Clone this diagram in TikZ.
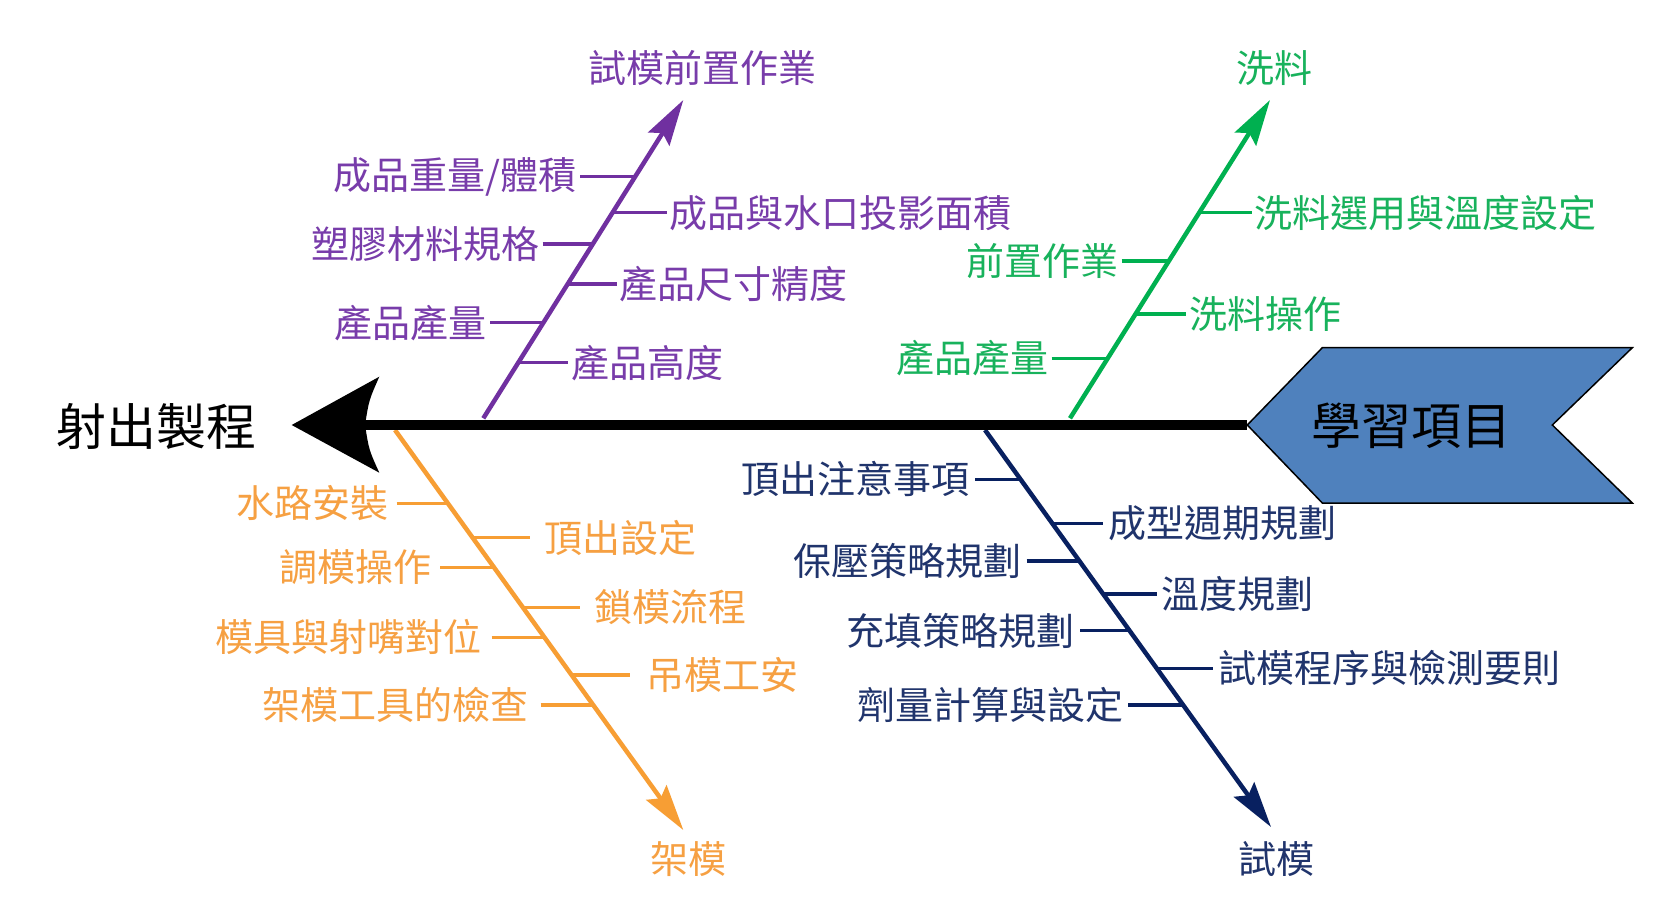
\documentclass[tikz,border=0pt]{standalone}
\usepackage{fontspec}
\setmainfont{Noto Sans CJK TC}
\usetikzlibrary{arrows.meta}
\definecolor{cpurple}{RGB}{112,48,160}
\definecolor{cpurpletxt}{RGB}{120,60,170}
\definecolor{cgreen}{RGB}{0,176,80}
\definecolor{cgreentxt}{RGB}{24,178,92}
\definecolor{corange}{RGB}{247,158,52}
\definecolor{corangetxt}{RGB}{246,160,66}
\definecolor{cnavy}{RGB}{8,32,96}
\definecolor{cnavytxt}{RGB}{32,52,108}
\definecolor{cblue}{RGB}{79,129,189}
\begin{document}
\begin{tikzpicture}[x=1pt,y=-1pt,
  lab/.style={inner ysep=0pt, inner xsep=3pt, font=\fontsize{38pt}{40pt}\selectfont},
  labL/.style={lab, anchor=east},
  labR/.style={lab, anchor=west},
  ttl/.style={inner sep=0pt, font=\fontsize{38pt}{40pt}\selectfont},
  big/.style={inner sep=0pt, font=\fontsize{50pt}{52pt}\selectfont},
  bone/.style={line width=4.5pt, -{Stealth[length=46pt,width=25pt,inset=7pt]}},
  tick/.style={line width=3.5pt},
]
\fill[white] (0,0) rectangle (1679,900);
\useasboundingbox (0,0) rectangle (1679,900);

% ---------- coordinates of the bones ----------
\coordinate (pbase) at (483.3,418.3);
\coordinate (ptip)  at (683.3,100);
\coordinate (gbase) at (1070,418.3);
\coordinate (gtip)  at (1270,100);
\coordinate (obase) at (395,430);
\coordinate (otip)  at (683.3,830);
\coordinate (nbase) at (985,430);
\coordinate (ntip)  at (1271,827);

% ---------- bones ----------
\draw[bone, cpurple] (pbase) -- (ptip);
\draw[bone, cgreen]  (gbase) -- (gtip);
\draw[bone, corange] (obase) -- (otip);
\draw[bone, cnavy]   (nbase) -- (ntip);

% ---------- spine and head ----------
\coordinate (headtip) at (291.7,425);
\coordinate (headnotch) at (365,425);
\coordinate (goalpt) at (1247.3,425);
\fill[black] (headtip) -- (379.3,376.7) .. controls (369,400) .. (headnotch)
  .. controls (369,450) .. (379.3,472.7) -- cycle;
\draw[line width=10pt] (headnotch) -- (goalpt);
\filldraw[fill=cblue, draw=black, line width=1.5pt]
  (goalpt) -- (1322.3,347.7) -- (1632.3,347.7) -- (1552.3,425)
  -- (1632.3,503) -- (1322.3,503) -- cycle;
\node[big] (goal) at (1411.5,426) {學習項目};
\node[big] (effect) at (156.5,426.5) {射出製程};

% ---------- titles ----------
\node[ttl, text=cpurpletxt] (tp) at (702.5,68) {試模前置作業};
\node[ttl, text=cgreentxt]  (tg) at (1274,68) {洗料};
\node[ttl, text=corangetxt] (to) at (688.5,859) {架模};
\node[ttl, text=cnavytxt]   (tn) at (1276.5,859) {試模};

% ---------- purple ----------
\begin{scope}[every node/.append style={text=cpurpletxt}]
\node[labL] (p1) at (580,176.7) {成品重量/體積};
\node[labR] (p2) at (666.7,212.7) {成品與水口投影面積};
\node[labL] (p3) at (542.7,244) {塑膠材料規格};
\node[labR] (p4) at (616.7,284) {產品尺寸精度};
\node[labL] (p5) at (490,322.7) {產品產量};
\node[labR] (p6) at (568.3,362.7) {產品高度};
\end{scope}
\coordinate (p1b) at (635.1,176.7);
\coordinate (p2b) at (612.5,212.7);
\coordinate (p3b) at (592.8,244);
\coordinate (p4b) at (567.7,284);
\coordinate (p5b) at (543.4,322.7);
\coordinate (p6b) at (518.2,362.7);
\begin{scope}[cpurple]
\draw[tick] (p1.east) -- (p1b);
\draw[tick] (p2b) -- (p2.west);
\draw[tick] (p3.east) -- (p3b);
\draw[tick] (p4b) -- (p4.west);
\draw[tick] (p5.east) -- (p5b);
\draw[tick] (p6b) -- (p6.west);
\end{scope}

% ---------- green ----------
\begin{scope}[every node/.append style={text=cgreentxt}]
\node[labR] (g1) at (1251.7,212.7) {洗料選用與溫度設定};
\node[labL] (g2) at (1121.7,261) {前置作業};
\node[labR] (g3) at (1186,314) {洗料操作};
\node[labL] (g4) at (1051.7,358.3) {產品產量};
\end{scope}
\coordinate (g1b) at (1199.2,212.7);
\coordinate (g2b) at (1168.8,261);
\coordinate (g3b) at (1135.5,314);
\coordinate (g4b) at (1107.7,358.3);
\begin{scope}[cgreen]
\draw[tick] (g1b) -- (g1.west);
\draw[tick] (g2.east) -- (g2b);
\draw[tick] (g3b) -- (g3.west);
\draw[tick] (g4.east) -- (g4b);
\end{scope}

% ---------- orange ----------
\begin{scope}[every node/.append style={text=corangetxt}]
\node[labL, inner xsep=8pt]  (o1) at (396.7,503.3) {水路安裝};
\node[labR, inner xsep=14pt] (o2) at (530,537.7) {頂出設定};
\node[labL, inner xsep=8pt]  (o3) at (440,567.3) {調模操作};
\node[labR, inner xsep=14pt] (o4) at (580,607.3) {鎖模流程};
\node[labL, inner xsep=10pt] (o5) at (491.7,637.3) {模具與射嘴對位};
\node[labR, inner xsep=16pt] (o6) at (630,675) {吊模工安};
\node[labL, inner xsep=12pt] (o7) at (540.7,705) {架模工具的檢查};
\end{scope}
\coordinate (o1b) at (447.8,503.3);
\coordinate (o2b) at (472.6,537.7);
\coordinate (o3b) at (494,567.3);
\coordinate (o4b) at (522.8,607.3);
\coordinate (o5b) at (544.4,637.3);
\coordinate (o6b) at (571.6,675);
\coordinate (o7b) at (593.2,705);
\begin{scope}[corange]
\draw[tick] (o1.east) -- (o1b);
\draw[tick] (o2b) -- (o2.west);
\draw[tick] (o3.east) -- (o3b);
\draw[tick] (o4b) -- (o4.west);
\draw[tick] (o5.east) -- (o5b);
\draw[tick] (o6b) -- (o6.west);
\draw[tick] (o7.east) -- (o7b);
\end{scope}

% ---------- navy ----------
\begin{scope}[every node/.append style={text=cnavytxt}]
\node[labL, inner xsep=5pt] (n1) at (975,479.3) {頂出注意事項};
\node[labR, inner xsep=5pt] (n2) at (1103.3,523.3) {成型週期規劃};
\node[labL, inner xsep=5pt] (n3) at (1026.7,561) {保壓策略規劃};
\node[labR, inner xsep=5pt] (n4) at (1156.7,594) {溫度規劃};
\node[labL, inner xsep=5pt] (n5) at (1080,630.7) {充填策略規劃};
\node[labR, inner xsep=5pt] (n6) at (1213.3,668.3) {試模程序與檢測要則};
\node[labL, inner xsep=5pt] (n7) at (1128.3,705) {劑量計算與設定};
\end{scope}
\coordinate (n1b) at (1020.5,479.3);
\coordinate (n2b) at (1052.2,523.3);
\coordinate (n3b) at (1079.4,561);
\coordinate (n4b) at (1103.1,594);
\coordinate (n5b) at (1129.6,630.7);
\coordinate (n6b) at (1156.7,668.3);
\coordinate (n7b) at (1183.1,705);
\begin{scope}[cnavy]
\draw[tick] (n1.east) -- (n1b);
\draw[tick] (n2b) -- (n2.west);
\draw[tick] (n3.east) -- (n3b);
\draw[tick] (n4b) -- (n4.west);
\draw[tick] (n5.east) -- (n5b);
\draw[tick] (n6b) -- (n6.west);
\draw[tick] (n7.east) -- (n7b);
\end{scope}
\end{tikzpicture}
\end{document}
